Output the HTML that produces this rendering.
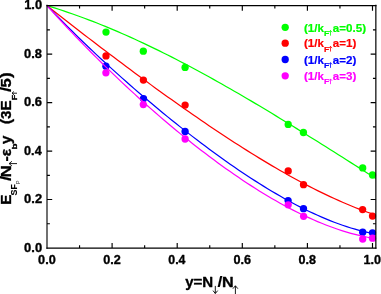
<!DOCTYPE html>
<html><head><meta charset="utf-8"><title>chart</title>
<style>
html,body{margin:0;padding:0;background:#fff;}
body{width:381px;height:294px;overflow:hidden;position:relative;font-family:"Liberation Sans",sans-serif;}
</style></head><body>
<svg width="381" height="294" viewBox="0 0 381 294" font-family="Liberation Sans, sans-serif" style="position:absolute;left:0;top:0;display:block;will-change:transform;filter:opacity(1)">
<rect width="381" height="294" fill="#ffffff"/>
<defs><clipPath id="pc"><rect x="47.0" y="5.5" width="328.85" height="242.5"/></clipPath></defs>
<path d="M79.55,248.1 v-2.9 M79.55,5.5 v2.9 M47.0,223.77 h2.9 M375.85,223.77 h-2.9 M112.10,248.1 v-5.2 M112.10,5.5 v5.2 M47.0,199.54 h5.2 M375.85,199.54 h-5.2 M144.65,248.1 v-2.9 M144.65,5.5 v2.9 M47.0,175.31 h2.9 M375.85,175.31 h-2.9 M177.20,248.1 v-5.2 M177.20,5.5 v5.2 M47.0,151.08 h5.2 M375.85,151.08 h-5.2 M209.75,248.1 v-2.9 M209.75,5.5 v2.9 M47.0,126.85 h2.9 M375.85,126.85 h-2.9 M242.30,248.1 v-5.2 M242.30,5.5 v5.2 M47.0,102.62 h5.2 M375.85,102.62 h-5.2 M274.85,248.1 v-2.9 M274.85,5.5 v2.9 M47.0,78.39 h2.9 M375.85,78.39 h-2.9 M307.40,248.1 v-5.2 M307.40,5.5 v5.2 M47.0,54.16 h5.2 M375.85,54.16 h-5.2 M339.95,248.1 v-2.9 M339.95,5.5 v2.9 M47.0,29.93 h2.9 M375.85,29.93 h-2.9 M372.50,248.1 v-5.2 M372.50,5.5 v5.2" stroke="#000" stroke-width="1.15" fill="none"/>
<path d="M47.00,5.60 L51.16,6.87 L55.33,8.18 L59.49,9.51 L63.65,10.89 L67.81,12.30 L71.98,13.74 L76.14,15.21 L80.30,16.71 L84.46,18.25 L88.63,19.82 L92.79,21.42 L96.95,23.05 L101.11,24.71 L105.28,26.40 L109.44,28.12 L113.60,29.87 L117.77,31.65 L121.93,33.46 L126.09,35.29 L130.25,37.15 L134.42,39.04 L138.58,40.95 L142.74,42.89 L146.90,44.85 L151.07,46.84 L155.23,48.86 L159.39,50.90 L163.55,52.96 L167.72,55.04 L171.88,57.15 L176.04,59.28 L180.21,61.43 L184.37,63.61 L188.53,65.80 L192.69,68.01 L196.86,70.25 L201.02,72.50 L205.18,74.78 L209.34,77.07 L213.51,79.38 L217.67,81.70 L221.83,84.05 L225.99,86.41 L230.16,88.79 L234.32,91.18 L238.48,93.59 L242.64,96.01 L246.81,98.45 L250.97,100.90 L255.13,103.36 L259.30,105.84 L263.46,108.33 L267.62,110.83 L271.78,113.35 L275.95,115.87 L280.11,118.41 L284.27,120.95 L288.43,123.50 L292.60,126.07 L296.76,128.64 L300.92,131.22 L305.08,133.80 L309.25,136.40 L313.41,139.00 L317.57,141.60 L321.74,144.22 L325.90,146.83 L330.06,149.45 L334.22,152.08 L338.39,154.71 L342.55,157.34 L346.71,159.97 L350.87,162.61 L355.04,165.24 L359.20,167.88 L363.36,170.52 L367.52,173.16 L371.69,175.79 L375.85,178.43" fill="none" stroke="#00ff00" stroke-width="1.22" clip-path="url(#pc)"/>
<circle cx="106.0" cy="32.1" r="3.65" fill="#00ff00"/>
<circle cx="143.3" cy="51.2" r="3.65" fill="#00ff00"/>
<circle cx="185.1" cy="67.4" r="3.65" fill="#00ff00"/>
<circle cx="288.2" cy="124.4" r="3.65" fill="#00ff00"/>
<circle cx="303.4" cy="132.5" r="3.65" fill="#00ff00"/>
<circle cx="362.7" cy="167.9" r="3.65" fill="#00ff00"/>
<circle cx="372.5" cy="175.0" r="3.65" fill="#00ff00"/>
<path d="M47.00,5.60 L51.16,8.90 L55.33,12.19 L59.49,15.46 L63.65,18.73 L67.81,21.98 L71.98,25.23 L76.14,28.46 L80.30,31.69 L84.46,34.90 L88.63,38.11 L92.79,41.30 L96.95,44.48 L101.11,47.66 L105.28,50.82 L109.44,53.97 L113.60,57.11 L117.77,60.24 L121.93,63.36 L126.09,66.47 L130.25,69.57 L134.42,72.65 L138.58,75.73 L142.74,78.79 L146.90,81.84 L151.07,84.87 L155.23,87.90 L159.39,90.91 L163.55,93.91 L167.72,96.89 L171.88,99.86 L176.04,102.82 L180.21,105.76 L184.37,108.69 L188.53,111.60 L192.69,114.49 L196.86,117.37 L201.02,120.23 L205.18,123.07 L209.34,125.89 L213.51,128.70 L217.67,131.48 L221.83,134.25 L225.99,136.99 L230.16,139.71 L234.32,142.41 L238.48,145.09 L242.64,147.74 L246.81,150.37 L250.97,152.98 L255.13,155.56 L259.30,158.11 L263.46,160.64 L267.62,163.14 L271.78,165.61 L275.95,168.05 L280.11,170.45 L284.27,172.83 L288.43,175.18 L292.60,177.49 L296.76,179.76 L300.92,182.01 L305.08,184.21 L309.25,186.38 L313.41,188.51 L317.57,190.60 L321.74,192.65 L325.90,194.66 L330.06,196.63 L334.22,198.55 L338.39,200.42 L342.55,202.26 L346.71,204.04 L350.87,205.78 L355.04,207.46 L359.20,209.10 L363.36,210.68 L367.52,212.21 L371.69,213.68 L375.85,215.10" fill="none" stroke="#ff0000" stroke-width="1.22" clip-path="url(#pc)"/>
<circle cx="106.0" cy="55.9" r="3.65" fill="#ff0000"/>
<circle cx="143.4" cy="80.1" r="3.65" fill="#ff0000"/>
<circle cx="185.1" cy="105.1" r="3.65" fill="#ff0000"/>
<circle cx="288.2" cy="170.9" r="3.65" fill="#ff0000"/>
<circle cx="303.5" cy="184.7" r="3.65" fill="#ff0000"/>
<circle cx="362.6" cy="209.6" r="3.65" fill="#ff0000"/>
<circle cx="372.5" cy="216.1" r="3.65" fill="#ff0000"/>
<path d="M47.00,5.60 L51.16,9.95 L55.33,14.25 L59.49,18.51 L63.65,22.73 L67.81,26.91 L71.98,31.05 L76.14,35.14 L80.30,39.20 L84.46,43.23 L88.63,47.21 L92.79,51.16 L96.95,55.08 L101.11,58.96 L105.28,62.81 L109.44,66.62 L113.60,70.41 L117.77,74.16 L121.93,77.88 L126.09,81.57 L130.25,85.23 L134.42,88.86 L138.58,92.46 L142.74,96.03 L146.90,99.57 L151.07,103.08 L155.23,106.57 L159.39,110.02 L163.55,113.45 L167.72,116.85 L171.88,120.22 L176.04,123.55 L180.21,126.86 L184.37,130.14 L188.53,133.39 L192.69,136.61 L196.86,139.80 L201.02,142.96 L205.18,146.09 L209.34,149.18 L213.51,152.24 L217.67,155.27 L221.83,158.26 L225.99,161.22 L230.16,164.14 L234.32,167.03 L238.48,169.88 L242.64,172.69 L246.81,175.46 L250.97,178.19 L255.13,180.88 L259.30,183.52 L263.46,186.12 L267.62,188.68 L271.78,191.19 L275.95,193.65 L280.11,196.07 L284.27,198.43 L288.43,200.74 L292.60,203.00 L296.76,205.20 L300.92,207.34 L305.08,209.43 L309.25,211.45 L313.41,213.42 L317.57,215.32 L321.74,217.15 L325.90,218.91 L330.06,220.61 L334.22,222.23 L338.39,223.78 L342.55,225.26 L346.71,226.65 L350.87,227.97 L355.04,229.20 L359.20,230.35 L363.36,231.41 L367.52,232.38 L371.69,233.26 L375.85,234.04" fill="none" stroke="#0000ff" stroke-width="1.22" clip-path="url(#pc)"/>
<circle cx="105.9" cy="66.2" r="3.65" fill="#0000ff"/>
<circle cx="143.5" cy="98.6" r="3.65" fill="#0000ff"/>
<circle cx="185.1" cy="131.5" r="3.65" fill="#0000ff"/>
<circle cx="288.1" cy="200.6" r="3.65" fill="#0000ff"/>
<circle cx="303.5" cy="208.7" r="3.65" fill="#0000ff"/>
<circle cx="362.7" cy="232.2" r="3.65" fill="#0000ff"/>
<circle cx="372.5" cy="232.8" r="3.65" fill="#0000ff"/>
<path d="M47.00,5.60 L51.16,10.21 L55.33,14.78 L59.49,19.30 L63.65,23.78 L67.81,28.22 L71.98,32.61 L76.14,36.97 L80.30,41.28 L84.46,45.56 L88.63,49.80 L92.79,53.99 L96.95,58.15 L101.11,62.28 L105.28,66.36 L109.44,70.41 L113.60,74.42 L117.77,78.39 L121.93,82.32 L126.09,86.22 L130.25,90.09 L134.42,93.91 L138.58,97.71 L142.74,101.46 L146.90,105.18 L151.07,108.86 L155.23,112.51 L159.39,116.12 L163.55,119.69 L167.72,123.23 L171.88,126.73 L176.04,130.19 L180.21,133.61 L184.37,137.00 L188.53,140.35 L192.69,143.66 L196.86,146.93 L201.02,150.16 L205.18,153.35 L209.34,156.50 L213.51,159.61 L217.67,162.68 L221.83,165.70 L225.99,168.69 L230.16,171.62 L234.32,174.52 L238.48,177.37 L242.64,180.17 L246.81,182.93 L250.97,185.63 L255.13,188.29 L259.30,190.90 L263.46,193.46 L267.62,195.96 L271.78,198.42 L275.95,200.82 L280.11,203.16 L284.27,205.45 L288.43,207.68 L292.60,209.85 L296.76,211.96 L300.92,214.01 L305.08,216.00 L309.25,217.92 L313.41,219.78 L317.57,221.57 L321.74,223.29 L325.90,224.95 L330.06,226.53 L334.22,228.03 L338.39,229.47 L342.55,230.82 L346.71,232.10 L350.87,233.30 L355.04,234.42 L359.20,235.45 L363.36,236.40 L367.52,237.26 L371.69,238.03 L375.85,238.71" fill="none" stroke="#ff00ff" stroke-width="1.22" clip-path="url(#pc)"/>
<circle cx="105.9" cy="72.8" r="3.65" fill="#ff00ff"/>
<circle cx="143.3" cy="104.6" r="3.65" fill="#ff00ff"/>
<circle cx="185.1" cy="139.0" r="3.65" fill="#ff00ff"/>
<circle cx="288.2" cy="204.8" r="3.65" fill="#ff00ff"/>
<circle cx="303.6" cy="216.3" r="3.65" fill="#ff00ff"/>
<circle cx="362.7" cy="239.1" r="3.65" fill="#ff00ff"/>
<circle cx="372.5" cy="238.2" r="3.65" fill="#ff00ff"/>
<path d="M47.0,4.85 V248.85" stroke="#000" stroke-width="1.12" fill="none"/>
<path d="M375.85,4.85 V248.75" stroke="#000" stroke-width="1.2" fill="none"/>
<path d="M46.4,5.5 H376.45000000000005" stroke="#000" stroke-width="1.25" fill="none"/>
<path d="M46.4,248.1 H376.45000000000005" stroke="#000" stroke-width="1.45" fill="none"/>
<text x="38.10" y="263.55" font-size="13" font-weight="bold" textLength="17.62" lengthAdjust="spacingAndGlyphs" fill="#000" stroke="#000" stroke-width="0.35" stroke-linejoin="round">0.0</text>
<text x="24.09" y="251.60" font-size="13" font-weight="bold" textLength="18.05" lengthAdjust="spacingAndGlyphs" fill="#000" stroke="#000" stroke-width="0.35" stroke-linejoin="round">0.0</text>
<text x="103.20" y="263.55" font-size="13" font-weight="bold" textLength="17.61" lengthAdjust="spacingAndGlyphs" fill="#000" stroke="#000" stroke-width="0.35" stroke-linejoin="round">0.2</text>
<text x="24.09" y="203.14" font-size="13" font-weight="bold" textLength="18.03" lengthAdjust="spacingAndGlyphs" fill="#000" stroke="#000" stroke-width="0.35" stroke-linejoin="round">0.2</text>
<text x="168.31" y="263.55" font-size="13" font-weight="bold" textLength="17.15" lengthAdjust="spacingAndGlyphs" fill="#000" stroke="#000" stroke-width="0.35" stroke-linejoin="round">0.4</text>
<text x="24.10" y="154.68" font-size="13" font-weight="bold" textLength="17.57" lengthAdjust="spacingAndGlyphs" fill="#000" stroke="#000" stroke-width="0.35" stroke-linejoin="round">0.4</text>
<text x="233.40" y="263.55" font-size="13" font-weight="bold" textLength="17.56" lengthAdjust="spacingAndGlyphs" fill="#000" stroke="#000" stroke-width="0.35" stroke-linejoin="round">0.6</text>
<text x="24.09" y="106.22" font-size="13" font-weight="bold" textLength="17.98" lengthAdjust="spacingAndGlyphs" fill="#000" stroke="#000" stroke-width="0.35" stroke-linejoin="round">0.6</text>
<text x="298.50" y="263.55" font-size="13" font-weight="bold" textLength="17.48" lengthAdjust="spacingAndGlyphs" fill="#000" stroke="#000" stroke-width="0.35" stroke-linejoin="round">0.8</text>
<text x="24.09" y="57.76" font-size="13" font-weight="bold" textLength="17.91" lengthAdjust="spacingAndGlyphs" fill="#000" stroke="#000" stroke-width="0.35" stroke-linejoin="round">0.8</text>
<text x="363.51" y="263.55" font-size="13" font-weight="bold" textLength="17.51" lengthAdjust="spacingAndGlyphs" fill="#000" stroke="#000" stroke-width="0.35" stroke-linejoin="round">1.0</text>
<text x="24.19" y="9.30" font-size="13" font-weight="bold" textLength="17.94" lengthAdjust="spacingAndGlyphs" fill="#000" stroke="#000" stroke-width="0.35" stroke-linejoin="round">1.0</text>
<circle cx="285.2" cy="27.3" r="3.65" fill="#00ff00"/>
<text x="304.02" y="31.55" font-size="11.6" font-weight="bold" textLength="19.97" lengthAdjust="spacingAndGlyphs" fill="#00ff00" stroke="#00ff00" stroke-width="0.2" stroke-linejoin="round">(1/k</text>
<text x="323.93" y="35.65" font-size="7" font-weight="bold" textLength="5.18" lengthAdjust="spacingAndGlyphs" fill="#00ff00" stroke="#00ff00" stroke-width="0.2" stroke-linejoin="round">F</text>
<path d="M330.5,35.65 V30.45 M328.9,32.25 L330.5,30.45 L332.1,32.25" stroke="#00ff00" stroke-width="0.8" fill="none"/>
<text x="332.86" y="31.55" font-size="11.6" font-weight="bold" textLength="33.16" lengthAdjust="spacingAndGlyphs" fill="#00ff00" stroke="#00ff00" stroke-width="0.2" stroke-linejoin="round">a=0.5)</text>
<circle cx="285.2" cy="43.2" r="3.65" fill="#ff0000"/>
<text x="304.02" y="47.45" font-size="11.6" font-weight="bold" textLength="19.97" lengthAdjust="spacingAndGlyphs" fill="#ff0000" stroke="#ff0000" stroke-width="0.2" stroke-linejoin="round">(1/k</text>
<text x="323.93" y="51.55" font-size="7" font-weight="bold" textLength="5.18" lengthAdjust="spacingAndGlyphs" fill="#ff0000" stroke="#ff0000" stroke-width="0.2" stroke-linejoin="round">F</text>
<path d="M330.5,51.550000000000004 V46.35 M328.9,48.15 L330.5,46.35 L332.1,48.15" stroke="#ff0000" stroke-width="0.8" fill="none"/>
<text x="332.86" y="47.45" font-size="11.6" font-weight="bold" textLength="23.50" lengthAdjust="spacingAndGlyphs" fill="#ff0000" stroke="#ff0000" stroke-width="0.2" stroke-linejoin="round">a=1)</text>
<circle cx="285.2" cy="59.5" r="3.65" fill="#0000ff"/>
<text x="304.02" y="63.75" font-size="11.6" font-weight="bold" textLength="19.97" lengthAdjust="spacingAndGlyphs" fill="#0000ff" stroke="#0000ff" stroke-width="0.2" stroke-linejoin="round">(1/k</text>
<text x="323.93" y="67.85" font-size="7" font-weight="bold" textLength="5.18" lengthAdjust="spacingAndGlyphs" fill="#0000ff" stroke="#0000ff" stroke-width="0.2" stroke-linejoin="round">F</text>
<path d="M330.5,67.85 V62.65 M328.9,64.45 L330.5,62.65 L332.1,64.45" stroke="#0000ff" stroke-width="0.8" fill="none"/>
<text x="332.86" y="63.75" font-size="11.6" font-weight="bold" textLength="23.50" lengthAdjust="spacingAndGlyphs" fill="#0000ff" stroke="#0000ff" stroke-width="0.2" stroke-linejoin="round">a=2)</text>
<circle cx="285.2" cy="75.8" r="3.65" fill="#ff00ff"/>
<text x="304.02" y="80.05" font-size="11.6" font-weight="bold" textLength="19.97" lengthAdjust="spacingAndGlyphs" fill="#ff00ff" stroke="#ff00ff" stroke-width="0.2" stroke-linejoin="round">(1/k</text>
<text x="323.93" y="84.15" font-size="7" font-weight="bold" textLength="5.18" lengthAdjust="spacingAndGlyphs" fill="#ff00ff" stroke="#ff00ff" stroke-width="0.2" stroke-linejoin="round">F</text>
<path d="M330.5,84.14999999999999 V78.95 M328.9,80.75 L330.5,78.95 L332.1,80.75" stroke="#ff00ff" stroke-width="0.8" fill="none"/>
<text x="332.86" y="80.05" font-size="11.6" font-weight="bold" textLength="23.50" lengthAdjust="spacingAndGlyphs" fill="#ff00ff" stroke="#ff00ff" stroke-width="0.2" stroke-linejoin="round">a=3)</text>
<text x="185.18" y="287.20" font-size="14.6" font-weight="bold" textLength="28.03" lengthAdjust="spacingAndGlyphs" fill="#000" stroke="#000" stroke-width="0.35" stroke-linejoin="round">y=N</text>
<text x="217.63" y="287.20" font-size="14.6" font-weight="bold" textLength="4.95" lengthAdjust="spacingAndGlyphs" fill="#000" stroke="#000" stroke-width="0.1" stroke-linejoin="round">/</text>
<text x="221.92" y="287.20" font-size="14.6" font-weight="bold" textLength="11.67" lengthAdjust="spacingAndGlyphs" fill="#000" stroke="#000" stroke-width="0.35" stroke-linejoin="round">N</text>
<path d="M215.3,285.9 V293.5 M213,290.6 L215.3,293.5 L217.7,290.6" stroke="#000" stroke-width="0.9" fill="none"/>
<path d="M235.4,294 V285.8 M232.9,288.7 L235.4,285.8 L237.9,288.7" stroke="#000" stroke-width="0.9" fill="none"/>
<g transform="rotate(-90)">
<text x="-204.71" y="11.40" font-size="14.6" font-weight="bold" textLength="10.11" lengthAdjust="spacingAndGlyphs" fill="#000" stroke="#000" stroke-width="0.35" stroke-linejoin="round">E</text>
<text x="-195.45" y="17.00" font-size="8.8" font-weight="bold" textLength="11.28" lengthAdjust="spacingAndGlyphs" fill="#000" stroke="#000" stroke-width="0.1" stroke-linejoin="round">SF</text>
<text x="-184.26" y="20.20" font-size="6" font-weight="normal" textLength="3.76" lengthAdjust="spacingAndGlyphs" fill="#222" >P</text>
<text x="-180.98" y="11.40" font-size="14.6" font-weight="bold" textLength="5.16" lengthAdjust="spacingAndGlyphs" fill="#000" stroke="#000" stroke-width="0.1" stroke-linejoin="round">/</text>
<text x="-177.44" y="11.40" font-size="14.6" font-weight="bold" textLength="12.28" lengthAdjust="spacingAndGlyphs" fill="#000" stroke="#000" stroke-width="0.35" stroke-linejoin="round">N</text>
<text x="-161.42" y="11.40" font-size="14.6" font-weight="bold" textLength="12.77" lengthAdjust="spacingAndGlyphs" fill="#000" stroke="#000" stroke-width="0.35" stroke-linejoin="round">-ε</text>
<text x="-149.55" y="17.40" font-size="8" font-weight="bold" textLength="6.06" lengthAdjust="spacingAndGlyphs" fill="#000" stroke="#000" stroke-width="0.35" stroke-linejoin="round">b</text>
<text x="-144.02" y="11.40" font-size="14.6" font-weight="bold" textLength="8.40" lengthAdjust="spacingAndGlyphs" fill="#000" stroke="#000" stroke-width="0.35" stroke-linejoin="round">y</text>
<text x="-123.95" y="11.40" font-size="14.6" font-weight="bold" textLength="23.44" lengthAdjust="spacingAndGlyphs" fill="#000" stroke="#000" stroke-width="0.35" stroke-linejoin="round">(3E</text>
<text x="-100.19" y="17.00" font-size="7.6" font-weight="bold" textLength="5.42" lengthAdjust="spacingAndGlyphs" fill="#000" stroke="#000" stroke-width="0.35" stroke-linejoin="round">F</text>
<text x="-92.08" y="11.40" font-size="14.6" font-weight="bold" textLength="5.16" lengthAdjust="spacingAndGlyphs" fill="#000" stroke="#000" stroke-width="0.1" stroke-linejoin="round">/</text>
<text x="-87.41" y="11.40" font-size="14.6" font-weight="bold" textLength="9.17" lengthAdjust="spacingAndGlyphs" fill="#000" stroke="#000" stroke-width="0.35" stroke-linejoin="round">5</text>
<text x="-78.02" y="11.40" font-size="14.6" font-weight="bold" textLength="5.66" lengthAdjust="spacingAndGlyphs" fill="#000" stroke="#000" stroke-width="0.35" stroke-linejoin="round">)</text>
</g>
<path d="M17,163.6 H9.1 M11.9,161.3 L9.1,163.6 L11.9,165.9" stroke="#000" stroke-width="0.9" fill="none"/>
<path d="M17,93.2 H12 M13.9,91.5 L12,93.2 L13.9,94.9" stroke="#111" stroke-width="0.95" fill="none"/>
</svg>
</body></html>
